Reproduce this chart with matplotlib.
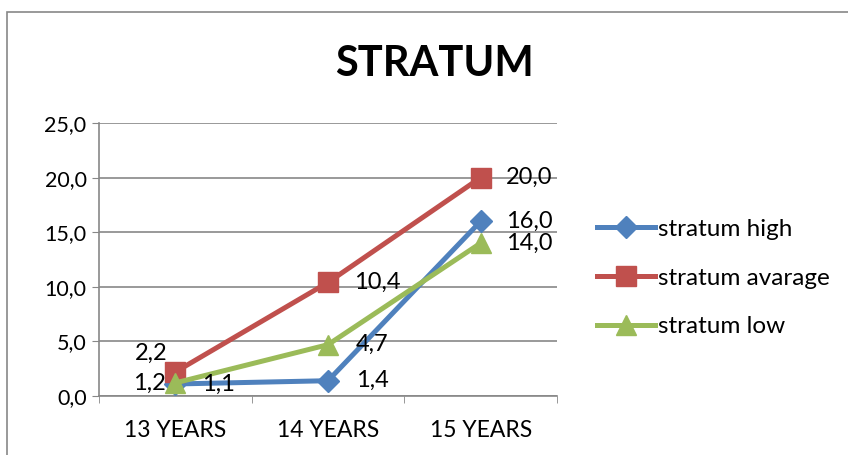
import matplotlib.pyplot as plt
from matplotlib.patches import Rectangle

plt.rcParams['font.family'] = ['Lato', 'DejaVu Sans']

categories = ["13 YEARS", "14 YEARS", "15 YEARS"]
stratum_high = [1.1, 1.4, 16.0]
stratum_avarage = [2.2, 10.4, 20.0]
stratum_low = [1.2, 4.7, 14.0]
yticks = [0, 5, 10, 15, 20, 25]

blue = "#4F81BD"
red = "#C0504D"
green = "#9BBB59"
grey = "#878787"

fig = plt.figure(figsize=(8.48, 4.55), dpi=100)
# outer chart frame (only top and left edges visible)
fig.patches.append(Rectangle((7 / 848, -0.1), 1.2, (455 - 12) / 455 + 0.1,
                             transform=fig.transFigure, fill=False,
                             edgecolor=grey, linewidth=1.2))

ax = fig.add_axes([99 / 848, (455 - 396) / 455, (557 - 99) / 848, (396 - 123) / 455])
x = [0, 1, 2]

ax.plot(x, stratum_high, color=blue, lw=3.6, marker="D", ms=11, label="stratum high", zorder=3)
ax.plot(x, stratum_avarage, color=red, lw=3.6, marker="s", ms=14, label="stratum avarage", zorder=3)
ax.plot(x, stratum_low, color=green, lw=3.6, marker="^", ms=15, label="stratum low", zorder=4)

ax.set_xlim(-0.5, 2.5)
ax.set_ylim(0, 25)
ax.set_yticks(yticks)
ax.set_yticklabels([f"{v:.1f}".replace(".", ",") for v in yticks], fontsize=15.5)
ax.set_xticks(x)
ax.set_xticklabels(categories, fontsize=16.5)
ax.set_xticks([-0.5, 0.5, 1.5, 2.5], minor=True)
ax.tick_params(axis="x", which="major", length=0, pad=17)
ax.tick_params(axis="x", which="minor", length=5, color=grey)
ax.tick_params(axis="y", length=5, color=grey, pad=4)
ax.grid(axis="y", color=grey, lw=1.2)
ax.set_axisbelow(True)
for s in ["top", "right"]:
    ax.spines[s].set_visible(False)
for s in ["left", "bottom"]:
    ax.spines[s].set_color(grey)
    ax.spines[s].set_linewidth(1.2)

def fmt(v):
    return f"{v:.1f}".replace(".", ",")

# value labels, offsets in (x, y) data units
offsets_high = [(0.28, 0), (0.29, 0), (0.32, 0)]
offsets_avarage = [(-0.16, 1.7), (0.32, 0), (0.32, 0)]
offsets_low = [(-0.17, 0), (0.29, 0), (0.32, 0)]
for vals, offs in [(stratum_high, offsets_high), (stratum_avarage, offsets_avarage),
                   (stratum_low, offsets_low)]:
    for i, v in enumerate(vals):
        dx, dy = offs[i]
        ax.text(x[i] + dx, v + dy, fmt(v), fontsize=17,
                ha="center", va="center", zorder=5)

fig.legend(loc="center left", bbox_to_anchor=(597 / 848, 1 - 278 / 455), frameon=False,
           fontsize=17.5, handlelength=2.4, handletextpad=0.12, labelspacing=1.15,
           borderaxespad=0, borderpad=0)

fig.text(434 / 848, 1 - 64 / 455, "STRATUM", fontsize=30, fontweight="bold",
         ha="center", va="center")

fig.savefig("out.png", dpi=100)
